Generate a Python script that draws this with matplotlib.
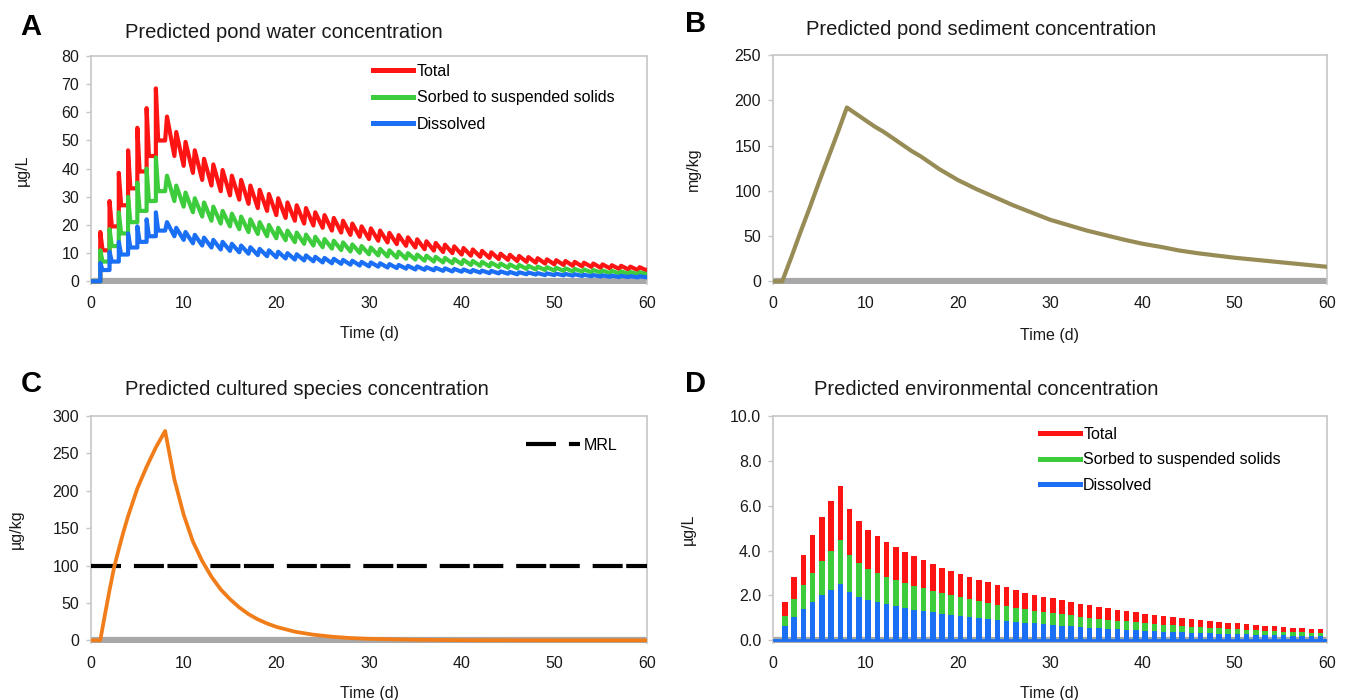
import numpy as np
import matplotlib
matplotlib.use("Agg")
import matplotlib.pyplot as plt
from matplotlib.lines import Line2D

plt.rcParams["font.family"] = ["Liberation Sans", "DejaVu Sans"]

# ---------------- data ----------------
# A: pond water, value at each daily peak and the low just before the next dose (ug/L)
total_peak = [17.5, 28.5, 38.5, 46.5, 54.5, 61.5, 68.5, 58.5, 53, 49.5, 46.5, 43.5, 41.5, 39.5, 37.5,
              36, 34, 32.5, 31, 29.5, 28, 27, 26, 24.5, 23.5, 22.5, 21.5, 20.5, 19.5, 18.8,
              18, 17.2, 16.4, 15.6, 14.9, 14.2, 13.6, 13, 12.4, 11.8, 11.3, 10.8, 10.3, 9.8, 9.4,
              9, 8.6, 8.2, 7.8, 7.5, 7.2, 6.9, 6.6, 6.3, 6, 5.7, 5.5, 5.2, 5, 4.8]
total_low = [11, 19.5, 27, 33, 39, 44.5, 50, 44.5, 41, 38.5, 36, 34, 32, 30.5, 29,
             27.5, 26, 25, 23.5, 22.5, 21.5, 20.5, 19.8, 19, 18, 17.3, 16.5, 15.8, 15, 14.4,
             13.8, 13.2, 12.6, 12, 11.4, 10.9, 10.4, 10, 9.5, 9.1, 8.7, 8.3, 7.9, 7.6, 7.2,
             6.9, 6.6, 6.3, 6, 5.8, 5.5, 5.3, 5.1, 4.8, 4.6, 4.4, 4.2, 4, 3.8, 3.7]
sorbed_peak = [11, 18.5, 24.5, 30, 35, 40, 44, 37.5, 34, 31.5, 29.5, 28, 26.5, 25, 24,
               23, 22, 21, 20, 19, 18, 17.3, 16.6, 15.8, 15, 14.4, 13.8, 13.1, 12.5, 12,
               11.5, 11, 10.5, 10, 9.5, 9.1, 8.7, 8.3, 7.9, 7.6, 7.2, 6.9, 6.6, 6.3, 6,
               5.8, 5.5, 5.2, 5, 4.8, 4.6, 4.4, 4.2, 4, 3.8, 3.7, 3.5, 3.3, 3.2, 3.1]
sorbed_low = [7, 12.5, 17, 21, 25, 28.5, 32, 28.5, 26.5, 24.5, 23, 21.5, 20.5, 19.5, 18.5,
              17.5, 16.8, 16, 15.3, 14.6, 13.9, 13.3, 12.7, 12.1, 11.6, 11.1, 10.6, 10.1, 9.6, 9.2,
              8.8, 8.4, 8, 7.7, 7.3, 7, 6.7, 6.4, 6.1, 5.8, 5.5, 5.3, 5.1, 4.8, 4.6,
              4.4, 4.2, 4, 3.8, 3.7, 3.5, 3.4, 3.2, 3.1, 2.9, 2.8, 2.7, 2.6, 2.5, 2.4]
dissolved_peak = [6.5, 10.5, 14, 17, 19.5, 22, 24.5, 21, 19, 17.5, 16.5, 15.5, 14.7, 14, 13.3,
                  12.7, 12.1, 11.5, 11, 10.5, 10, 9.6, 9.2, 8.7, 8.3, 8, 7.6, 7.3, 6.9, 6.7,
                  6.4, 6.1, 5.8, 5.5, 5.3, 5, 4.8, 4.6, 4.4, 4.2, 4, 3.8, 3.7, 3.5, 3.3,
                  3.2, 3.1, 2.9, 2.8, 2.7, 2.6, 2.5, 2.3, 2.2, 2.1, 2, 1.95, 1.85, 1.8, 1.7]
dissolved_low = [4, 7, 9.5, 12, 14, 16, 18, 16, 14.7, 13.5, 12.7, 12, 11.3, 10.8, 10.3,
                 9.8, 9.3, 8.9, 8.5, 8.1, 7.7, 7.4, 7.1, 6.7, 6.4, 6.2, 5.9, 5.6, 5.3, 5.2,
                 4.9, 4.7, 4.5, 4.2, 4.1, 3.9, 3.7, 3.5, 3.4, 3.2, 3.1, 2.9, 2.8, 2.7, 2.5,
                 2.5, 2.4, 2.2, 2.2, 2.1, 2, 1.9, 1.8, 1.7, 1.6, 1.5, 1.5, 1.4, 1.4, 1.3]
dosing_days = 7

# B: pond sediment (mg/kg)
sed_days = [0, 1, 2, 3, 4, 5, 6, 7, 8, 9, 10, 11, 12, 13, 14, 15, 16, 17, 18, 19, 20, 22, 24,
            26, 28, 30, 32, 34, 36, 38, 40, 42, 44, 46, 48, 50, 52, 54, 56, 58, 60]
sed_conc = [0, 0, 27, 55, 82, 110, 137, 164, 192, 185, 178, 171, 165, 158, 151, 144, 138, 131,
            124, 118, 112, 102, 93, 84, 76, 68, 62, 56, 51, 46, 41.5, 38, 34, 31, 28.5, 26,
            24, 22, 20, 18, 16]

# C: cultured species (ug/kg)
fish_days = [0, 1, 1.5, 2, 2.5, 3, 3.5, 4, 5, 6, 7, 8, 9, 10, 11, 12, 13, 14, 15, 16, 17, 18,
             19, 20, 22, 24, 26, 28, 30, 35, 40, 45, 50, 60]
fish_conc = [0, 0, 34, 67, 98, 122, 145, 166, 203, 232, 258, 280, 215, 168, 132, 106, 85, 68, 55,
             44, 35, 28, 22.5, 18, 11.5, 7.5, 4.8, 3, 2, 0.7, 0.25, 0.1, 0, 0]
mrl = 100

# D: predicted environmental concentration, daily peaks (ug/L)
env_days = list(range(1, 60))
env_total = [1.72, 2.83, 3.82, 4.68, 5.48, 6.19, 6.86, 5.87, 5.33, 4.93, 4.64, 4.37, 4.15, 3.94,
             3.76, 3.59, 3.42, 3.24, 3.10, 2.95, 2.81, 2.70, 2.58, 2.46, 2.36, 2.25, 2.13, 2.04,
             1.94, 1.88, 1.80, 1.72, 1.64, 1.56, 1.49, 1.42, 1.36, 1.30, 1.24, 1.18, 1.13, 1.08,
             1.03, 0.98, 0.94, 0.90, 0.86, 0.82, 0.78, 0.75, 0.72, 0.69, 0.66, 0.63, 0.60, 0.57,
             0.55, 0.52, 0.50]
env_sorbed = [1.10, 1.85, 2.45, 3.00, 3.55, 4.00, 4.45, 3.80, 3.45, 3.20, 3.00, 2.83, 2.68, 2.55,
              2.43, 2.32, 2.21, 2.10, 2.00, 1.91, 1.82, 1.75, 1.67, 1.59, 1.53, 1.46, 1.38, 1.32,
              1.26, 1.22, 1.17, 1.11, 1.06, 1.01, 0.97, 0.92, 0.88, 0.84, 0.80, 0.76, 0.73, 0.70,
              0.67, 0.64, 0.61, 0.58, 0.56, 0.53, 0.51, 0.49, 0.47, 0.45, 0.43, 0.41, 0.39, 0.37,
              0.36, 0.34, 0.32]
env_dissolved = [0.65, 1.05, 1.40, 1.72, 2.00, 2.25, 2.50, 2.15, 1.95, 1.80, 1.70, 1.60, 1.52,
                 1.44, 1.37, 1.31, 1.25, 1.18, 1.13, 1.08, 1.03, 0.99, 0.94, 0.90, 0.86, 0.82,
                 0.78, 0.75, 0.71, 0.69, 0.66, 0.63, 0.60, 0.57, 0.54, 0.52, 0.50, 0.47, 0.45,
                 0.43, 0.41, 0.39, 0.38, 0.36, 0.34, 0.33, 0.31, 0.30, 0.28, 0.27, 0.26, 0.25,
                 0.24, 0.23, 0.22, 0.21, 0.20, 0.19, 0.18]

series_names = ["Total", "Sorbed to suspended solids", "Dissolved"]

# ---------------- style ----------------
RED = "#ff1414"
GREEN = "#3ccc3c"
BLUE = "#1a6ff5"
ORANGE = "#f07d1a"
OLIVE = "#978c55"
AXIS_GRAY = "#a8a8a8"
FRAME_GRAY = "#c6c6c6"
TEXT = "#1a1a1a"
TICK_FS = 11.5
TITLE_FS = 14.5
LEG_FS = 11.5

W, H = 1348, 700


def pulse_path(peaks, lows):
    """Daily dosing sawtooth: spike at each day, then decline to the pre-dose low."""
    xs, ys = [0, 1], [0, 0]
    for i, (p, lo) in enumerate(zip(peaks, lows)):
        d = i + 1
        if d <= dosing_days:
            xs += [d, d + 0.25, d + 1]
            ys += [p, lo, lo]
        else:
            xs += [d + 0.2, d + 1]
            ys += [p, lo]
    return np.array(xs), np.array(ys)


def make_ax(px_left, px_top, px_right, px_bottom, ymax, yticks, ylabel, xlab_y, ylab_x):
    ax = fig.add_axes([px_left / W, 1 - px_bottom / H,
                       (px_right - px_left) / W, (px_bottom - px_top) / H])
    ax.set_xlim(0, 60)
    ax.set_ylim(-0.012 * ymax, ymax)
    ax.set_xticks(range(0, 61, 10))
    ax.set_yticks(yticks)
    for side in ["top", "right", "left"]:
        ax.spines[side].set_color(FRAME_GRAY)
        ax.spines[side].set_linewidth(1.2)
    ax.spines["bottom"].set_visible(False)
    ax.axhline(0, color=AXIS_GRAY, lw=4.5, zorder=1.5)
    ax.tick_params(axis="y", length=3.5, width=1, color=FRAME_GRAY, pad=5,
                   labelsize=TICK_FS, labelcolor=TEXT)
    ax.tick_params(axis="x", length=0, pad=9, labelsize=TICK_FS, labelcolor=TEXT)
    ax.set_xlabel("Time (d)", fontsize=TICK_FS, color=TEXT)
    ax.set_ylabel(ylabel, fontsize=TICK_FS, color=TEXT)
    ax.xaxis.set_label_coords(0.5, xlab_y)
    ax.yaxis.set_label_coords(ylab_x, 0.5)
    return ax


def panel_text(letter, lx, title, tx, base_y):
    fig.text(lx / W, 1 - base_y / H, letter, fontsize=21, fontweight="bold",
             color="black", va="baseline", ha="left")
    fig.text(tx / W, 1 - (base_y + 3) / H, title, fontsize=TITLE_FS,
             color=TEXT, va="baseline", ha="left")


fig = plt.figure(figsize=(W / 100, H / 100), dpi=100, facecolor="white")

# ---------------- A ----------------
axA = make_ax(91, 56, 647, 284, 80, range(0, 81, 10), "µg/L", -0.185, -0.11)
for pk, lo, col, name in [(total_peak, total_low, RED, series_names[0]),
                          (sorbed_peak, sorbed_low, GREEN, series_names[1]),
                          (dissolved_peak, dissolved_low, BLUE, series_names[2])]:
    x, y = pulse_path(pk, lo)
    axA.plot(x, y, color=col, lw=3.0, label=name, zorder=3)
legA = axA.legend(loc="upper left", bbox_to_anchor=(0.508, 0.965), frameon=False,
                  fontsize=LEG_FS, handlelength=2.5, handletextpad=0.2,
                  labelspacing=0.72, borderpad=0, borderaxespad=0)
for h in legA.get_lines():
    h.set_linewidth(3.6)
panel_text("A", 20, "Predicted pond water concentration", 125, 35)

# ---------------- B ----------------
axB = make_ax(773, 55, 1327, 284, 250, range(0, 251, 50), "mg/kg", -0.19, -0.13)
axB.plot(sed_days, sed_conc, color=OLIVE, lw=3.0, zorder=3)
panel_text("B", 685, "Predicted pond sediment concentration", 806, 32)

# ---------------- C ----------------
axC = make_ax(91, 416, 647, 643, 300, range(0, 301, 50), "µg/kg", -0.19, -0.12)
axC.plot(fish_days, fish_conc, color=ORANGE, lw=2.7, zorder=3)
axC.axhline(mrl, color="black", lw=3, dashes=(7.2, 3.1, 7.2, 0.85), label="MRL", zorder=2.8)
axC.legend(loc="upper left", bbox_to_anchor=(0.782, 0.905), frameon=False, fontsize=LEG_FS,
           handlelength=3.4, handletextpad=0.2, borderpad=0, borderaxespad=0)
panel_text("C", 21, "Predicted cultured species concentration", 125, 392)

# ---------------- D ----------------
axD = make_ax(773, 416, 1327, 643, 10, np.arange(0, 10.1, 2), "µg/L", -0.19, -0.14)
axD.yaxis.set_major_formatter(matplotlib.ticker.FormatStrFormatter("%.1f"))
for vals, col in [(env_total, RED), (env_sorbed, GREEN), (env_dissolved, BLUE)]:
    axD.bar(env_days, vals, width=0.6, align="edge", color=col, linewidth=0, zorder=3)
axD.axhline(0, color=BLUE, lw=2, zorder=3.1)
handles = [Line2D([], [], color=c, lw=3.6) for c in (RED, GREEN, BLUE)]
axD.legend(handles, series_names, loc="upper left", bbox_to_anchor=(0.482, 0.952),
           frameon=False, fontsize=LEG_FS, handlelength=2.5, handletextpad=0.2,
           labelspacing=0.65, borderpad=0, borderaxespad=0)
panel_text("D", 685, "Predicted environmental concentration", 814, 392)

fig.savefig("out.png", dpi=100, facecolor="white")
